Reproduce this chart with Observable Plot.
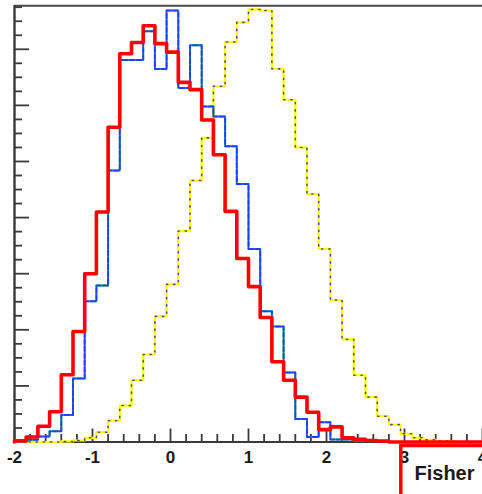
<!DOCTYPE html>
<html><head><meta charset="utf-8">
<script src="https://cdn.jsdelivr.net/npm/d3@7"></script>
<script src="https://cdn.jsdelivr.net/npm/@observablehq/plot@0.6"></script>
<style>html,body{margin:0;padding:0;background:#fff;overflow:hidden}</style>
</head><body><div id="chart"></div>
<script>
// Bin edges of the 40 histogram bins (Fisher discriminant output)
const binEdges = [-2, -1.85, -1.7, -1.55, -1.4, -1.25, -1.1, -0.95, -0.8, -0.65, -0.5, -0.35, -0.2, -0.05,
  0.1, 0.25, 0.4, 0.55, 0.7, 0.85, 1, 1.15, 1.3, 1.45, 1.6, 1.75, 1.9, 2.05, 2.2, 2.35, 2.5, 2.65, 2.8,
  2.95, 3.1, 3.25, 3.4, 3.55, 3.7, 3.85, 4];
// Bin contents (arbitrary units)
const redValues = [0.2, 0.9, 2.8, 5.4, 12.0, 19.7, 30.0, 41.0, 56.1, 69.2, 71.2, 74.2, 71.0, 69.5, 64.1, 62.8,
  57.4, 51.2, 41.1, 32.7, 27.7, 22.2, 14.3, 11.0, 8.0, 5.3, 2.2, 2.7, 0.75, 0.5, 0.27, 0.18, 0, 0, 0, 0, 0, 0, 0, 0];
const blueValues = [0.1, 0.4, 1.0, 1.9, 4.8, 11.3, 25.1, 27.9, 48.4, 68.1, 68.1, 73.2, 66.5, 76.9, 63.1, 70.7,
  59.8, 58.0, 52.7, 46.0, 34.4, 23.3, 20.6, 12.4, 4.1, 0.9, 3.5, 0.45, 0.45, 0.27, 0.27, 0.18, 0, 0, 0, 0, 0, 0, 0, 0];
const yellowValues = [0, 0, 0, 0, 0.1, 0.27, 0.75, 1.75, 3.8, 6.5, 11.0, 15.6, 22.4, 28.1, 37.6, 46.6,
  54.2, 63.4, 71.3, 74.8, 77.1, 76.9, 66.5, 61.0, 52.5, 44.2, 34.4, 25.3, 18.3, 11.9, 8.0, 4.6, 3.1, 1.46, 0.75, 0.39, 0.18, 0.1, 0, 0];

const xMajorTicks = [-2, -1, 0, 1, 2, 3, 4];
const xTickLabels = ["-2", "-1", "0", "1", "2", "3", "4"];
const xMinorTicks = [-1.8, -1.6, -1.4, -1.2, -0.8, -0.6, -0.4, -0.2, 0.2, 0.4, 0.6, 0.8, 1.2, 1.4, 1.6, 1.8,
  2.2, 2.4, 2.6, 2.8, 3.2, 3.4, 3.6, 3.8];
const yMajorTicks = [0, 10, 20, 30, 40, 50, 60, 70];
const yMinorTicks = [2.5, 5, 7.5, 12.5, 15, 17.5, 22.5, 25, 27.5, 32.5, 35, 37.5, 42.5, 45, 47.5, 52.5, 55, 57.5,
  62.5, 65, 67.5, 72.5, 75, 77.5];
const yAxisMax = 77.75;
const legendLabel = "Fisher";

const W = 482, H = 494;
const mL = 14, mR = 0, mT = 5.3, mB = 52.5;
const innerW = W - mL - mR, innerH = H - mT - mB;

function steps(values) {
  const last = binEdges[binEdges.length - 1];
  const pts = [{x: binEdges[0], y: 0}];
  values.forEach((v, i) => pts.push({x: binEdges[i], y: v}));
  pts.push({x: last, y: values[values.length - 1]});
  pts.push({x: last, y: 0});
  return pts;
}

const axisColor = "#3a3a3a";
const chart = Plot.plot({
  width: W, height: H,
  marginLeft: mL, marginRight: mR, marginTop: mT, marginBottom: mB,
  style: {fontFamily: "'Liberation Sans', Arial, sans-serif", background: "#fff", overflow: "hidden"},
  x: {domain: [-2, 4], axis: null},
  y: {domain: [0, yAxisMax], axis: null},
  marks: [
    // frame lines
    Plot.ruleY([yAxisMax], {stroke: "#4a4a4a", strokeWidth: 2}),
    Plot.ruleX([-2], {stroke: axisColor, strokeWidth: 2.4}),
    Plot.ruleY([0], {stroke: axisColor, strokeWidth: 2.2}),
    // y ticks
    Plot.ruleY(yMajorTicks, {y: d => d, stroke: axisColor, strokeWidth: 1.8, insetRight: innerW - 15}),
    Plot.ruleY(yMinorTicks, {y: d => d, stroke: axisColor, strokeWidth: 1.8, insetRight: innerW - 8}),
    // x ticks
    Plot.ruleX(xMajorTicks, {x: d => d, stroke: axisColor, strokeWidth: 1.8, insetTop: innerH - 13}),
    Plot.ruleX(xMinorTicks, {x: d => d, stroke: axisColor, strokeWidth: 1.8, insetTop: innerH - 7.5}),
    // yellow dotted histogram
    Plot.line(steps(yellowValues), {x: "x", y: "y", curve: "step-after", stroke: "#ffff00", strokeWidth: 2.2}),
    Plot.line(steps(yellowValues), {x: "x", y: "y", curve: "step-after", stroke: "#555", strokeWidth: 1.6, strokeDasharray: "1.3,5.9"}),
    // blue dashed histogram
    Plot.line(steps(blueValues), {x: "x", y: "y", curve: "step-after", stroke: "#44cc44", strokeWidth: 2}),
    Plot.line(steps(blueValues), {x: "x", y: "y", curve: "step-after", stroke: "#1f3fff", strokeWidth: 2, strokeDasharray: "5,2"}),
    // red histogram
    Plot.line(steps(redValues), {x: "x", y: "y", curve: "step-after", stroke: "#ff0000", strokeWidth: 3.6}),
    // tick labels
    Plot.text(xMajorTicks, {x: d => d, text: (d, i) => xTickLabels[i], frameAnchor: "bottom", lineAnchor: "bottom",
      dy: 20.5, fontSize: 17, fontWeight: "bold", fill: "#1a1a1a"}),
    // legend box
    Plot.frame({stroke: "#ff0000", strokeWidth: 3.5, fill: "none",
      insetLeft: 400.3 - mL, insetTop: 445 - mT, insetRight: -20, insetBottom: -60}),
    Plot.text([legendLabel], {text: d => d, frameAnchor: "bottom-left", textAnchor: "start", lineAnchor: "bottom",
      dx: 414 - mL, dy: 479.3 - (H - mB), fontSize: 20, fontWeight: "bold", fill: "#1a1a1a"})
  ]
});
document.getElementById("chart").appendChild(chart);
</script>
</body></html>
